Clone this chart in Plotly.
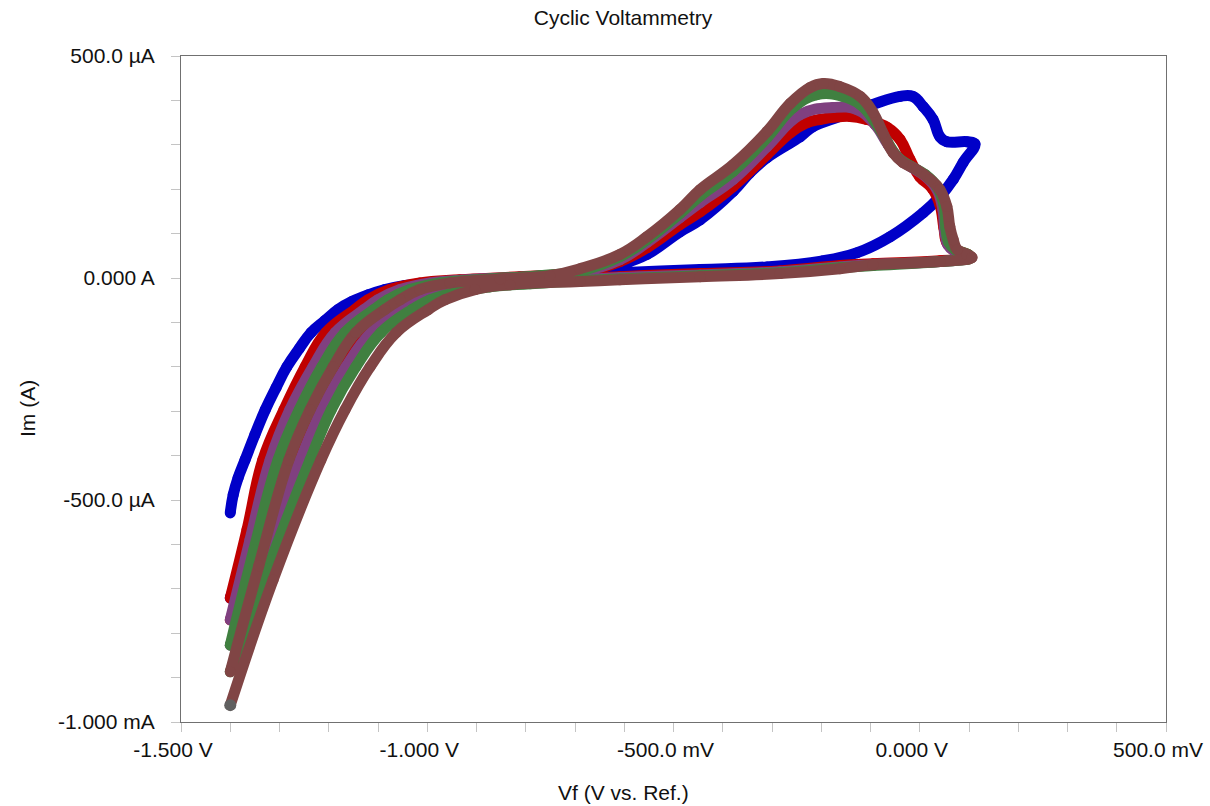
import plotly.graph_objects as go

# ---- data: potential (V vs. Ref.) and current (µA) ----
# cycle 1 (blue)
c1_up_v = [-1.400, -1.394, -1.384, -1.370, -1.350, -1.329, -1.307, -1.285, -1.260, -1.236, -1.208, -1.181,
           -1.153, -1.120, -1.086, -1.045, -0.994, -0.893, -0.791, -0.690, -0.609, -0.554, -0.487, -0.446,
           -0.379, -0.345, -0.310, -0.243, -0.217, -0.162, -0.095, -0.040, -0.014, 0.007, 0.027, 0.041,
           0.055, 0.096, 0.112]
c1_up_i = [-529, -488, -450, -410, -353, -297, -247, -200, -159, -123, -96, -71,
           -53, -38, -26, -17, -11, -6, -2, 10, 30, 53, 104, 131,
           195, 237, 271, 318, 341, 364, 391, 409, 409, 386, 357, 318,
           307, 307, 302]
c1_dn_v = [0.088, 0.068, 0.041, 0.007, -0.060, -0.127, -0.200, -0.310, -0.446, -0.609, -0.751, -0.852,
           -0.913, -0.994, -1.055, -1.086, -1.149, -1.197, -1.242, -1.289, -1.348, -1.400]
c1_dn_i = [260, 222, 183, 147, 93, 57, 38, 25, 19, 12, 5, -2,
           -11, -26, -49, -71, -123, -200, -297, -410, -567, -721]

# cycle 2 (red)
c2_up_v = [-1.400, -1.366, -1.334, -1.291, -1.248, -1.206, -1.147, -1.120, -1.076, -1.015, -0.934, -0.812,
           -0.690, -0.609, -0.554, -0.487, -0.446, -0.379, -0.310, -0.263, -0.229, -0.203, -0.142, -0.107,
           -0.066, -0.040, -0.020, 0.000, 0.025, 0.041, 0.049, 0.055, 0.072, 0.098, 0.104]
c2_up_i = [-721, -567, -410, -297, -200, -123, -71, -49, -26, -11, -4, 3,
           12, 37, 68, 120, 149, 206, 278, 327, 350, 357, 364, 357,
           339, 312, 267, 228, 202, 165, 113, 80, 64, 53, 46]
c2_dn_v = [0.041, -0.095, -0.162, -0.284, -0.446, -0.609, -0.690, -0.791, -0.893, -0.974, -1.035, -1.068,
           -1.130, -1.179, -1.226, -1.269, -1.336, -1.400]
c2_dn_i = [39, 32, 28, 16, 10, 3, -2, -6, -15, -26, -49, -71,
           -123, -200, -297, -410, -590, -770]

# cycle 3 (purple)
c3_up_v = [-1.400, -1.360, -1.319, -1.279, -1.232, -1.187, -1.128, -1.100, -1.055, -0.994, -0.893, -0.791,
           -0.690, -0.609, -0.554, -0.487, -0.446, -0.379, -0.310, -0.243, -0.176, -0.127, -0.091, -0.064,
           -0.040, -0.016, 0.013, 0.035, 0.047, 0.051, 0.057, 0.072, 0.098, 0.102]
c3_up_i = [-770, -590, -410, -297, -200, -123, -71, -49, -26, -11, -2, 3,
           14, 41, 80, 136, 170, 222, 296, 368, 384, 379, 346, 300,
           267, 249, 228, 199, 154, 104, 75, 59, 50, 46]
c3_dn_v = [0.041, -0.095, -0.162, -0.284, -0.446, -0.609, -0.690, -0.791, -0.893, -0.964, -1.015, -1.051,
           -1.114, -1.165, -1.214, -1.258, -1.327, -1.400]
c3_dn_i = [37, 30, 25, 14, 7, 1, -4, -8, -17, -31, -49, -71,
           -123, -200, -297, -410, -612, -827]

# cycle 4 (green)
c4_up_v = [-1.400, -1.352, -1.303, -1.260, -1.214, -1.167, -1.108, -1.080, -1.035, -0.974, -0.873, -0.771,
           -0.690, -0.609, -0.554, -0.487, -0.446, -0.379, -0.310, -0.257, -0.209, -0.156, -0.121, -0.091,
           -0.066, -0.046, -0.020, 0.011, 0.035, 0.049, 0.053, 0.059, 0.072, 0.098, 0.104]
c4_up_i = [-827, -612, -410, -297, -200, -123, -71, -49, -26, -11, -2, 5,
           16, 48, 86, 145, 185, 240, 316, 384, 413, 409, 391, 352,
           307, 273, 253, 233, 206, 165, 113, 80, 64, 53, 46]
c4_dn_v = [0.041, -0.095, -0.162, -0.284, -0.446, -0.609, -0.690, -0.791, -0.873, -0.950, -0.994, -1.031,
           -1.094, -1.145, -1.195, -1.238, -1.317, -1.400]
c4_dn_i = [37, 28, 23, 12, 5, -2, -6, -13, -20, -35, -49, -71,
           -123, -200, -297, -410, -635, -887]

# cycle 5 (brown)
c5_up_v = [-1.400, -1.342, -1.281, -1.238, -1.191, -1.145, -1.086, -1.055, -1.015, -0.954, -0.852, -0.751,
           -0.690, -0.609, -0.554, -0.487, -0.446, -0.379, -0.310, -0.263, -0.223, -0.196, -0.162, -0.121,
           -0.095, -0.075, -0.054, -0.034, -0.006, 0.021, 0.041, 0.055, 0.061, 0.068, 0.076, 0.096, 0.106]
c5_up_i = [-887, -648, -410, -297, -200, -123, -71, -49, -26, -11, -2, 5,
           21, 53, 93, 154, 199, 255, 330, 393, 429, 438, 431, 409,
           373, 327, 282, 260, 244, 222, 199, 161, 116, 86, 64, 53, 46]
c5_dn_v = [0.041, -0.095, -0.162, -0.284, -0.446, -0.609, -0.690, -0.832, -0.903, -0.964, -0.998, -1.063,
           -1.116, -1.167, -1.216, -1.313, -1.400]
c5_dn_i = [37, 30, 21, 10, 3, -4, -8, -15, -26, -49, -71, -123,
           -200, -297, -410, -680, -962]

cycle_colors = ["#0000C8", "#C00000", "#804080", "#408040", "#804545"]
end_color = "#606060"

x_tickvals = [-1.5, -1.0, -0.5, 0.0, 0.5]
x_ticktext = ["-1.500 V", "-1.000 V", "-500.0 mV", "0.000 V", "500.0 mV"]
y_tickvals = [-1000, -500, 0, 500]
y_ticktext = ["-1.000 mA", "-500.0 µA", "0.000 A", "500.0 µA"]

cycles = [
    (c1_up_v + c1_dn_v, c1_up_i + c1_dn_i),
    (c2_up_v + c2_dn_v, c2_up_i + c2_dn_i),
    (c3_up_v + c3_dn_v, c3_up_i + c3_dn_i),
    (c4_up_v + c4_dn_v, c4_up_i + c4_dn_i),
    (c5_up_v + c5_dn_v, c5_up_i + c5_dn_i),
]

FONT = "Liberation Sans, Arial, Helvetica, sans-serif"

fig = go.Figure()
for (v, i), col in zip(cycles, cycle_colors):
    fig.add_trace(go.Scatter(
        x=v, y=i, mode="lines+markers",
        line=dict(color=col, width=11, shape="spline", smoothing=1.2),
        marker=dict(color=col, size=11, line=dict(width=0)),
        hoverinfo="skip", showlegend=False,
    ))

# final point of the last cycle
fig.add_trace(go.Scatter(
    x=[c5_dn_v[-1]], y=[c5_dn_i[-1]], mode="markers",
    marker=dict(color=end_color, size=12, line=dict(width=0)),
    hoverinfo="skip", showlegend=False,
))

fig.update_layout(
    width=1210, height=806,
    margin=dict(l=181, r=44, t=56, b=84, pad=0, autoexpand=False),
    paper_bgcolor="white", plot_bgcolor="white",
    font=dict(family=FONT, size=21, color="#111111"),
    title=dict(text="Cyclic Voltammetry", x=623 / 1210, xanchor="center",
               y=1 - 18 / 806, yanchor="middle", font=dict(size=21, color="#111111")),
    showlegend=False,
)

fig.update_xaxes(
    range=[-1.5, 0.5], tickmode="array", tickvals=x_tickvals, ticktext=x_ticktext,
    ticks="outside", ticklen=9, tickcolor="#c4c4c4", tickwidth=1,
    minor=dict(tickmode="linear", tick0=-1.5, dtick=0.1, ticks="outside", ticklen=9,
               tickcolor="#c4c4c4", tickwidth=1, showgrid=False),
    ticklabelshift=-8, ticklabelstandoff=0, automargin=False,
    showline=True, linecolor="#707070", linewidth=1, mirror=True,
    showgrid=False, zeroline=False,
    tickfont=dict(family=FONT, size=21, color="#111111"),
)
fig.update_yaxes(
    range=[-1000, 500], tickmode="array", tickvals=y_tickvals, ticktext=y_ticktext,
    ticks="outside", ticklen=9, tickcolor="#c4c4c4", tickwidth=1,
    minor=dict(tickmode="linear", tick0=-1000, dtick=100, ticks="outside", ticklen=9,
               tickcolor="#c4c4c4", tickwidth=1, showgrid=False),
    ticklabelstandoff=12, automargin=False,
    showline=True, linecolor="#707070", linewidth=1, mirror=True,
    showgrid=False, zeroline=False,
    tickfont=dict(family=FONT, size=21, color="#111111"),
)

fig.add_annotation(text="Im (A)", xref="paper", yref="paper",
                   x=(27 - 181) / 985, y=(722 - 409) / 666, xanchor="center", yanchor="middle",
                   textangle=-90, showarrow=False, font=dict(family=FONT, size=21, color="#111111"))
fig.add_annotation(text="Vf (V vs. Ref.)", xref="paper", yref="paper",
                   x=(623 - 181) / 985, y=(722 - 806) / 666, xanchor="center", yanchor="bottom",
                   showarrow=False, font=dict(family=FONT, size=21, color="#111111"))

fig.write_html("out.html")
